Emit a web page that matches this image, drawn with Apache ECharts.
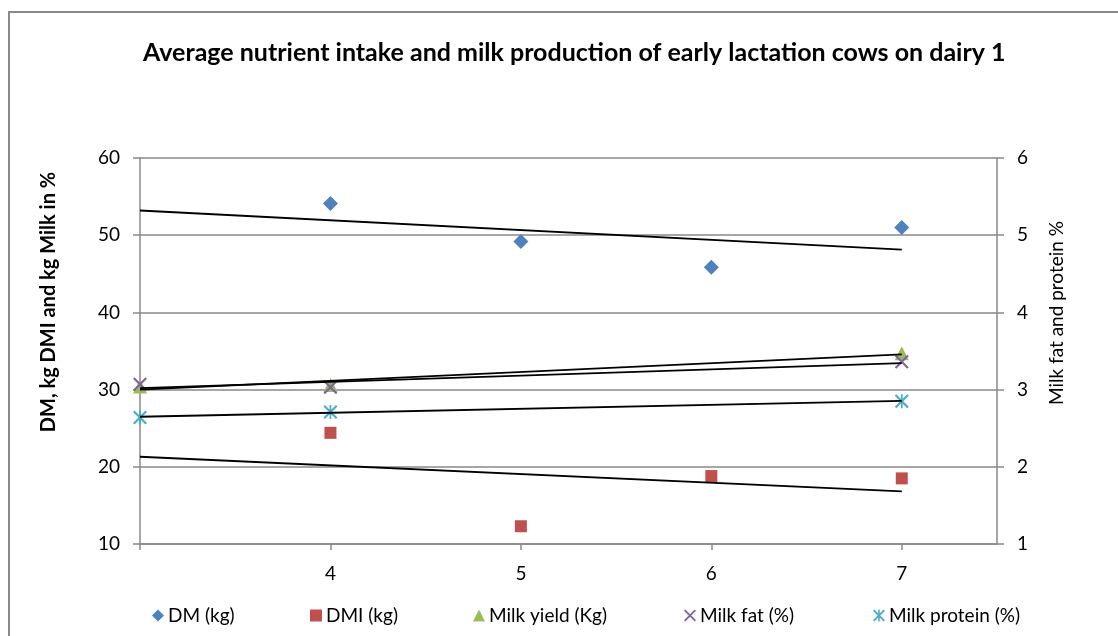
<!DOCTYPE html>
<html>
<head>
<meta charset="utf-8">
<script src="https://cdn.jsdelivr.net/npm/echarts@6/dist/echarts.min.js"></script>
<style>
html,body{margin:0;padding:0;background:#fff;}
#chart{width:1118px;height:636px;}
</style>
</head>
<body>
<div id="chart"></div>
<script>
// ---- data ----
const titleText = 'Average nutrient intake and milk production of early lactation cows on dairy 1';
const leftAxisName = 'DM, kg DMI and kg Milk in %';
const rightAxisName = 'Milk fat and protein %';
const seriesNames = ['DM (kg)', 'DMI (kg)', 'Milk yield (Kg)', 'Milk fat (%)', 'Milk protein (%)'];

const dmX = [4, 5, 6, 7];
const dmY = [54.1, 49.2, 45.85, 51.0];
const dmiX = [4, 5, 6, 7];
const dmiY = [24.4, 12.3, 18.8, 18.5];
const milkX = [3, 4, 7];
const milkYield = [30.4, 30.6, 34.7];
const milkFat = [3.07, 3.03, 3.36];
const milkProtein = [2.64, 2.71, 2.85];

const xTickLabels = [4, 5, 6, 7];
const xTicks = [3, 4, 5, 6, 7];
const trendFrom = 3;
const trendTo = 7;

// ---- helpers ----
function pairs(xs, ys) { return xs.map((x, i) => [x, ys[i]]); }
// least-squares linear trendline (as drawn by the spreadsheet)
function trend(xs, ys) {
  const n = xs.length;
  const mx = xs.reduce((a, b) => a + b, 0) / n;
  const my = ys.reduce((a, b) => a + b, 0) / n;
  let sxy = 0, sxx = 0;
  for (let i = 0; i < n; i++) { sxy += (xs[i] - mx) * (ys[i] - my); sxx += (xs[i] - mx) * (xs[i] - mx); }
  const b = sxy / sxx, a = my - b * mx;
  return [[trendFrom, a + b * trendFrom], [trendTo, a + b * trendTo]];
}

const colors = ['#4F81BD', '#C0504D', '#9BBB59', '#8064A2', '#4BACC6'];
const xPath = 'path://M0,1.3L1.3,0L12,10.7L10.7,12Z M10.7,0L12,1.3L1.3,12L0,10.7Z';
const starPath = 'path://M0,1.3L1.3,0L12,10.7L10.7,12Z M10.7,0L12,1.3L1.3,12L0,10.7Z M5.25,0L6.75,0L6.75,12L5.25,12Z';
const FONT = 'Lato';
const AX = '#898989';

function scatter(name, data, symbol, size, color, yIdx) {
  return { name, type: 'scatter', data, symbol, symbolSize: size, yAxisIndex: yIdx,
           itemStyle: { color, opacity: 1 }, z: 2, silent: true };
}
function trendLine(data, yIdx) {
  return { type: 'line', data, yAxisIndex: yIdx, showSymbol: false, symbol: 'none',
           lineStyle: { color: '#000', width: 1.8 }, z: 3, silent: true };
}

const legendLefts = [147, 305, 468, 679, 868];

const option = {
  animation: false,
  backgroundColor: '#fff',
  title: {
    text: titleText, left: 138, top: 35,
    textStyle: { fontFamily: FONT, fontWeight: 'bold', fontSize: 25, color: '#000' }
  },
  legend: seriesNames.map((nm, i) => ({
    data: [nm], left: legendLefts[i], top: 601, itemWidth: 12, itemHeight: 12, itemGap: 0,
    textStyle: { fontFamily: FONT, fontSize: 19, color: '#000', padding: [0, 0, 0, -1] },
    selectedMode: false
  })),
  grid: { left: 140, right: 121, top: 158, bottom: 92, containLabel: false },
  xAxis: {
    type: 'value', min: 3, max: 7.5, interval: 1,
    axisLine: { show: true, lineStyle: { color: AX, width: 1.5 } },
    axisTick: { show: true, length: 6, lineStyle: { color: AX, width: 1.5 }, customValues: xTicks },
    axisLabel: { customValues: xTickLabels, margin: 20, fontFamily: FONT, fontSize: 19, color: '#000' },
    splitLine: { show: false }
  },
  yAxis: [
    {
      type: 'value', min: 10, max: 60, interval: 10, position: 'left',
      axisLine: { show: true, lineStyle: { color: AX, width: 1.5 } },
      axisTick: { show: true, length: 7, lineStyle: { color: AX, width: 1.5 } },
      axisLabel: { margin: 20, fontFamily: FONT, fontSize: 19, color: '#000' },
      splitLine: { show: true, lineStyle: { color: AX, width: 1.5 } }
    },
    {
      type: 'value', min: 1, max: 6, interval: 1, position: 'right',
      axisLine: { show: true, lineStyle: { color: AX, width: 1.5 } },
      axisTick: { show: true, length: 7, lineStyle: { color: AX, width: 1.5 } },
      axisLabel: { margin: 20, fontFamily: FONT, fontSize: 19, color: '#000' },
      splitLine: { show: false }
    }
  ],
  graphic: [
    { type: 'rect', shape: { x: 9, y: 12, width: 1200, height: 700 }, silent: true,
      style: { fill: 'none', stroke: AX, lineWidth: 2 } },
    { type: 'text', x: 49, y: 302, rotation: Math.PI / 2, silent: true,
      style: { text: leftAxisName, fontFamily: FONT, fontWeight: 'bold', fontSize: 20, fill: '#000',
               align: 'center', verticalAlign: 'middle' } },
    { type: 'text', x: 1057, y: 313, rotation: Math.PI / 2, silent: true,
      style: { text: rightAxisName, fontFamily: FONT, fontSize: 19, fill: '#000',
               align: 'center', verticalAlign: 'middle' } }
  ],
  series: [
    scatter(seriesNames[0], pairs(dmX, dmY), 'diamond', 15, colors[0], 0),
    scatter(seriesNames[1], pairs(dmiX, dmiY), 'rect', 12, colors[1], 0),
    scatter(seriesNames[2], pairs(milkX, milkYield), 'triangle', 14, colors[2], 0),
    scatter(seriesNames[3], pairs(milkX, milkFat), xPath, 14, colors[3], 1),
    scatter(seriesNames[4], pairs(milkX, milkProtein), starPath, 14, colors[4], 1),
    trendLine(trend(dmX, dmY), 0),
    trendLine(trend(dmiX, dmiY), 0),
    trendLine(trend(milkX, milkYield), 0),
    trendLine(trend(milkX, milkFat), 1),
    trendLine(trend(milkX, milkProtein), 1)
  ]
};

const chart = echarts.init(document.getElementById('chart'), null, { renderer: 'canvas' });
chart.setOption(option);
</script>
</body>
</html>
